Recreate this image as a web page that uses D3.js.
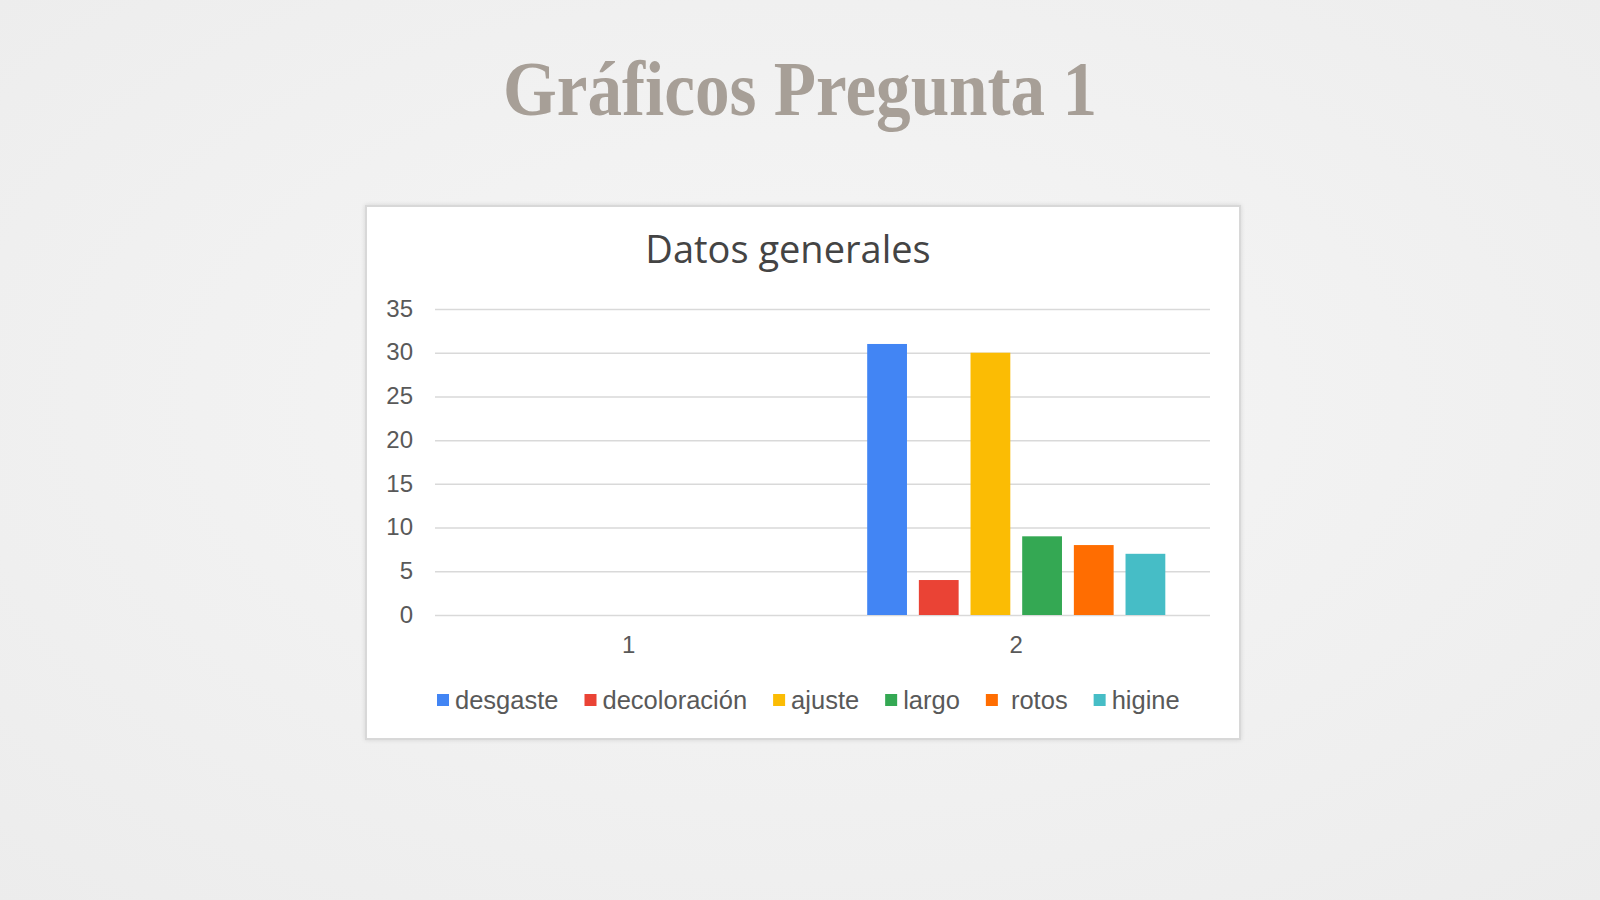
<!DOCTYPE html>
<html><head><meta charset="utf-8">
<script src="https://cdn.jsdelivr.net/npm/d3@7"></script>
<style>
html,body{margin:0;padding:0;width:1600px;height:900px;overflow:hidden;background:#f1f1f1;}
</style></head>
<body>
<svg id="c" width="1600" height="900"></svg>
<script>
const categories = ["1", "2"];
const seriesNames = ["desgaste", "decoloración", "ajuste", "largo", "rotos", "higine"];
const legendLabels = ["desgaste", "decoloración", "ajuste", "largo", " rotos", "higine"];
const desgaste = [0, 31];
const decoloracion = [0, 4];
const ajuste = [0, 30];
const largo = [0, 9];
const rotos = [0, 8];
const higine = [0, 7];
const yTicks = [0, 5, 10, 15, 20, 25, 30, 35];
const colors = ["#4285f4", "#ea4335", "#fbbc04", "#34a853", "#ff6d01", "#46bdc6"];
const seriesValues = [desgaste, decoloracion, ajuste, largo, rotos, higine];

(function(){
const svg = d3.select("#c");
const defs = svg.append("defs");
const bg = defs.append("radialGradient").attr("id","bg").attr("cx","50%").attr("cy","45%").attr("r","75%");
bg.append("stop").attr("offset","0%").attr("stop-color","#f6f6f6");
bg.append("stop").attr("offset","100%").attr("stop-color","#ececec");
svg.append("rect").attr("width",1600).attr("height",900).attr("fill","url(#bg)");

// Slide title
svg.append("text").attr("x",800).attr("y",115).attr("text-anchor","middle")
  .attr("font-family","Liberation Serif, serif").attr("font-weight","bold")
  .attr("font-size",78).attr("fill","#a79f97")
  .attr("textLength",594).attr("lengthAdjust","spacingAndGlyphs")
  .text("Gráficos Pregunta 1");

// chart panel
const f = defs.append("filter").attr("id","sh").attr("x","-5%").attr("y","-5%").attr("width","110%").attr("height","110%");
f.append("feDropShadow").attr("dx",0).attr("dy",0).attr("stdDeviation",2).attr("flood-color","#000").attr("flood-opacity",0.12);
svg.append("rect").attr("x",366).attr("y",206).attr("width",874).attr("height",533)
  .attr("fill","#fff").attr("stroke","#d8d8d8").attr("stroke-width",2).attr("filter","url(#sh)");

svg.append("text").attr("x",788).attr("y",263).attr("text-anchor","middle")
  .attr("font-family","Open Sans, sans-serif").attr("font-size",38).attr("fill","#444")
  .text("Datos generales");

const pLeft = 435, pRight = 1210, pTop = 309, pBottom = 615;
const y = d3.scaleLinear().domain([0,35]).range([pBottom, pTop]);
const x0 = d3.scaleBand().domain(categories).range([pLeft,pRight]).paddingInner(0.2).paddingOuter(0.1);
const x1 = d3.scaleBand().domain(seriesNames).range([0, x0.bandwidth()]).paddingInner(0.23).paddingOuter(0.115);

// grid
const yAxis = d3.axisLeft(y).tickValues(yTicks).tickSize(-(pRight-pLeft)).tickPadding(22);
const ga = svg.append("g").attr("transform",`translate(${pLeft},0)`).call(yAxis);
ga.select(".domain").remove();
ga.selectAll(".tick line").attr("stroke","#d9d9d9").attr("stroke-width",1.5);
ga.selectAll(".tick text").attr("font-family","Liberation Sans, Arial, sans-serif").attr("font-size",24).attr("fill","#595959").attr("dy","0.3em");

// bars
const data = categories.map((c,i)=>({cat:c, vals: seriesNames.map((s,j)=>({s, v: seriesValues[j][i], color: colors[j]}))}));
const groups = svg.append("g").selectAll("g").data(data).join("g").attr("transform",d=>`translate(${x0(d.cat)},0)`);
groups.selectAll("rect").data(d=>d.vals.filter(v=>v.v>0)).join("rect")
  .attr("x",d=>x1(d.s)).attr("width",x1.bandwidth())
  .attr("y",d=>y(d.v)).attr("height",d=>y(0)-y(d.v)).attr("fill",d=>d.color);

// x axis labels
const xAxis = d3.axisBottom(x0).tickSize(0).tickPadding(21);
const gx = svg.append("g").attr("transform",`translate(0,${pBottom})`).call(xAxis);
gx.select(".domain").remove();
gx.selectAll(".tick text").attr("font-family","Liberation Sans, Arial, sans-serif").attr("font-size",24).attr("fill","#595959");

// legend
const lg = svg.append("g").attr("transform","translate(437,700)");
let lx = 0;
seriesNames.forEach((s,i)=>{
  const it = lg.append("g").attr("transform",`translate(${lx},0)`);
  it.append("rect").attr("x",0).attr("y",-6).attr("width",12).attr("height",12).attr("fill",colors[i]);
  const t = it.append("text").attr("x",18).attr("y",0).attr("dy","0.35em")
    .attr("font-family","Liberation Sans, Arial, sans-serif").attr("font-size",25.5).attr("fill","#595959")
    .style("white-space","pre").text(legendLabels[i]);
  lx += 18 + t.node().getComputedTextLength() + 26;
});
})();
</script>
</body></html>
